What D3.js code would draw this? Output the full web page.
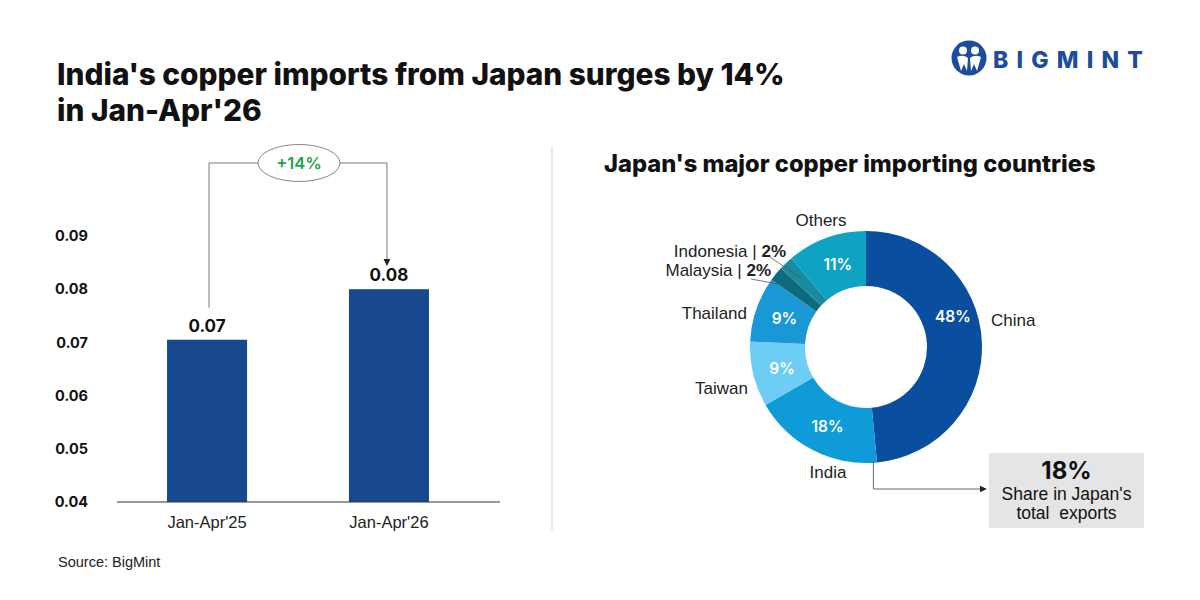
<!DOCTYPE html>
<html><head><meta charset="utf-8">
<script src="https://cdn.jsdelivr.net/npm/d3@7"></script>
<style>
html,body{margin:0;padding:0;background:#fff;}
svg{display:block;}
</style></head>
<body>
<svg id="c" width="1200" height="600"></svg>
<script>
// ---- data ----
const periods = ["Jan-Apr'25", "Jan-Apr'26"];
const importValues = [0.0705, 0.08];
const valueLabels = ["0.07", "0.08"];
const yTicks = [0.04, 0.05, 0.06, 0.07, 0.08, 0.09];
const changeLabel = "+14%";

const countries = ["China", "India", "Taiwan", "Thailand", "Malaysia", "Indonesia", "Others"];
const shares = [48, 18, 9, 9, 2, 2, 11];
const sliceColors = ["#0a4ea0", "#0f9ad8", "#6dcdf4", "#1a97d5", "#0d6b7e", "#1a8b9f", "#0ea2c3"];
const calloutValue = "18%";

const svg = d3.select("#c");
const W = 1200, H = 600;
svg.append("rect").attr("width", W).attr("height", H).attr("fill", "#fff");

const titleFont = "Inter, 'Liberation Sans', sans-serif";
const bodyFont = "'Liberation Sans', Arial, sans-serif";

// ---- title ----
const t = svg.append("text").attr("font-family", titleFont).attr("font-weight", 800)
  .attr("font-size", 29.8).attr("fill", "#111");
t.append("tspan").attr("x", 57).attr("y", 85).text("India's copper imports from Japan surges by 14%");
t.append("tspan").attr("x", 57).attr("y", 121).text("in Jan-Apr'26");

// ---- logo ----
const logo = svg.append("g").attr("transform", "translate(969,58)");
logo.append("circle").attr("r", 17.5).attr("fill", "#1c4c9c");
logo.append("circle").attr("cx", -6).attr("cy", -7.5).attr("r", 4).attr("fill", "#fff");
logo.append("circle").attr("cx", 6).attr("cy", -7.5).attr("r", 4).attr("fill", "#fff");
logo.append("path").attr("d", "M-12,-1 Q-6,-4 -1,0 L-2,13 L-5,6 L-8,13 Z").attr("fill", "#fff");
logo.append("path").attr("d", "M12,-1 Q6,-4 1,0 L2,13 L5,6 L8,13 Z").attr("fill", "#fff");
svg.append("text").attr("x", 993).attr("y", 68).attr("font-family", titleFont)
  .attr("font-weight", 800).attr("font-size", 23).attr("letter-spacing", 8.2).attr("fill", "#1c4c9c").text("BIGMINT");

// ---- bar chart ----
const y = d3.scaleLinear().domain([0.04, 0.09]).range([502, 236]);
const x = d3.scaleBand().domain(periods).range([117, 479]).paddingInner(0.56).paddingOuter(0.275);

const gy = svg.append("g").attr("transform", "translate(88,0)")
  .call(d3.axisLeft(y).tickValues(yTicks).tickSize(0).tickPadding(0).tickFormat(d3.format(".2f")));
gy.select(".domain").remove();
gy.selectAll("text").attr("font-family", titleFont).attr("font-weight", 700).attr("font-size", 14.5).attr("fill", "#111");

svg.selectAll("rect.bar").data(importValues).enter().append("rect").attr("class", "bar")
  .attr("x", (d, i) => x(periods[i])).attr("width", x.bandwidth())
  .attr("y", d => y(d)).attr("height", d => y(0.04) - y(d)).attr("fill", "#18498f");

svg.append("line").attr("x1", 117).attr("x2", 500).attr("y1", y(0.04)).attr("y2", y(0.04))
  .attr("stroke", "#333").attr("stroke-width", 1.2);

const gx = svg.append("g").attr("transform", `translate(0,${y(0.04)})`)
  .call(d3.axisBottom(x).tickSize(0).tickPadding(14));
gx.select(".domain").remove();
gx.selectAll("text").attr("font-family", bodyFont).attr("font-size", 16.5).attr("fill", "#222");

svg.selectAll("text.vl").data(importValues).enter().append("text").attr("class", "vl")
  .attr("x", (d, i) => x(periods[i]) + x.bandwidth() / 2).attr("y", d => y(d) - 8)
  .attr("text-anchor", "middle").attr("font-family", titleFont).attr("font-weight", 700)
  .attr("font-size", 17).attr("fill", "#111").text((d, i) => valueLabels[i]);

// change annotation
const cx1 = x(periods[0]) + x.bandwidth() / 2 + 2, cx2 = x(periods[1]) + x.bandwidth() / 2 - 2;
const ay = 163, ecx = (cx1 + cx2) / 2 + 1;
svg.append("defs").append("marker").attr("id", "arr").attr("viewBox", "0 0 10 10")
  .attr("refX", 9).attr("refY", 5).attr("markerWidth", 7).attr("markerHeight", 7).attr("orient", "auto-start-reverse")
  .append("path").attr("d", "M0,0 L10,5 L0,10 Z").attr("fill", "#222");
svg.append("path").attr("d", `M${cx1},${y(importValues[0]) - 32} V${ay} H${ecx - 41}`)
  .attr("fill", "none").attr("stroke", "#777").attr("stroke-width", 1);
svg.append("path").attr("d", `M${ecx + 41},${ay} H${cx2} V${y(importValues[1]) - 24}`)
  .attr("fill", "none").attr("stroke", "#777").attr("stroke-width", 1).attr("marker-end", "url(#arr)");
svg.append("ellipse").attr("cx", ecx).attr("cy", ay).attr("rx", 41).attr("ry", 18.5)
  .attr("fill", "#fff").attr("stroke", "#888").attr("stroke-width", 1);
svg.append("text").attr("x", ecx).attr("y", ay + 6).attr("text-anchor", "middle")
  .attr("font-family", titleFont).attr("font-weight", 600).attr("font-size", 16.5).attr("fill", "#1ea34e").text(changeLabel);

// divider
svg.append("line").attr("x1", 552).attr("x2", 552).attr("y1", 147).attr("y2", 530)
  .attr("stroke", "#ddd").attr("stroke-width", 1.2);

// source
svg.append("text").attr("x", 58).attr("y", 567).attr("font-family", bodyFont).attr("font-size", 14.5)
  .attr("fill", "#222").text("Source: BigMint");

// ---- donut ----
svg.append("text").attr("x", 604).attr("y", 172).attr("font-family", titleFont).attr("font-weight", 800)
  .attr("font-size", 23.7).attr("fill", "#111").text("Japan's major copper importing countries");

const dcx = 866, dcy = 347, rO = 116, rI = 61;
const pie = d3.pie().sort(null).value(d => d);
const arcs = pie(shares);
const arc = d3.arc().innerRadius(rI).outerRadius(rO);
const g = svg.append("g").attr("transform", `translate(${dcx},${dcy})`);
g.selectAll("path").data(arcs).enter().append("path").attr("d", arc)
  .attr("fill", (d, i) => sliceColors[i]);

// inside labels
const labArc = d3.arc().innerRadius((rI + rO) / 2).outerRadius((rI + rO) / 2);
g.selectAll("text.in").data(arcs.filter(a => a.data >= 5)).enter().append("text").attr("class", "in")
  .attr("transform", d => {
    let c;
    if (d.index === 0) {
      const a = d.startAngle + (d.endAngle - d.startAngle) * 0.4;
      const r = (rI + rO) / 2 + 2;
      c = [r * Math.sin(a), -r * Math.cos(a)];
    } else c = labArc.centroid(d);
    return `translate(${c[0] + 2},${c[1] + 6})`;
  })
  .attr("text-anchor", "middle").attr("font-family", titleFont).attr("font-weight", 600)
  .attr("font-size", 15.5).attr("fill", "#fff").text(d => d.data + "%");

// outer labels
function outerPt(a, r) { return [dcx + r * Math.sin(a), dcy - r * Math.cos(a)]; }
const mid = d => (d.startAngle + d.endAngle) / 2;
const lf = { "font-family": bodyFont, "font-size": 17, "fill": "#222" };
function lbl(xp, yp, anchor, txt) {
  const e = svg.append("text").attr("x", xp).attr("y", yp).attr("text-anchor", anchor);
  Object.entries(lf).forEach(([k, v]) => e.attr(k, v));
  e.text(txt); return e;
}
lbl(991, 326, "start", countries[0]);
lbl(828, 478, "middle", countries[1]);
lbl(748, 394, "end", countries[2]);
lbl(747, 319, "end", countries[3]);
lbl(821, 226, "middle", countries[6]);
// Malaysia & Indonesia with leaders
function smallLbl(idx, xEnd, yBase, lx1, ly1) {
  const e = lbl(xEnd, yBase, "end", "");
  e.append("tspan").text(countries[idx] + " | ");
  e.append("tspan").attr("font-weight", 700).text(arcs[idx].data + "%");
  const p = outerPt(mid(arcs[idx]), rO - 20);
  svg.append("line").attr("x1", lx1).attr("y1", ly1).attr("x2", p[0]).attr("y2", p[1])
    .attr("stroke", "#555").attr("stroke-width", 0.8);
}
smallLbl(5, 786, 257, 770, 257);
smallLbl(4, 771, 276, 751, 279);

// India callout
{
  const p = outerPt(arcs[1].startAngle + 0.03, rO - 2);
  const bx = 989, by = 453, bw = 155, bh = 75;
  svg.append("path").attr("d", `M${p[0]},${p[1]} V${489} H${bx - 3}`).attr("fill", "none")
    .attr("stroke", "#666").attr("stroke-width", 1).attr("marker-end", "url(#arr)");
  svg.append("rect").attr("x", bx).attr("y", by).attr("width", bw).attr("height", bh).attr("fill", "#e5e5e5");
  svg.append("text").attr("x", bx + bw / 2).attr("y", by + 26).attr("text-anchor", "middle")
    .attr("font-family", titleFont).attr("font-weight", 700).attr("font-size", 24).attr("fill", "#111").text(calloutValue);
  const tt = svg.append("text").attr("text-anchor", "middle").attr("font-family", bodyFont)
    .attr("font-size", 17.5).attr("fill", "#111");
  tt.append("tspan").attr("x", bx + bw / 2).attr("y", by + 47).text("Share in Japan's");
  tt.append("tspan").attr("x", bx + bw / 2).attr("y", by + 66).text("total\u00a0 exports");
}
</script>
</body></html>
